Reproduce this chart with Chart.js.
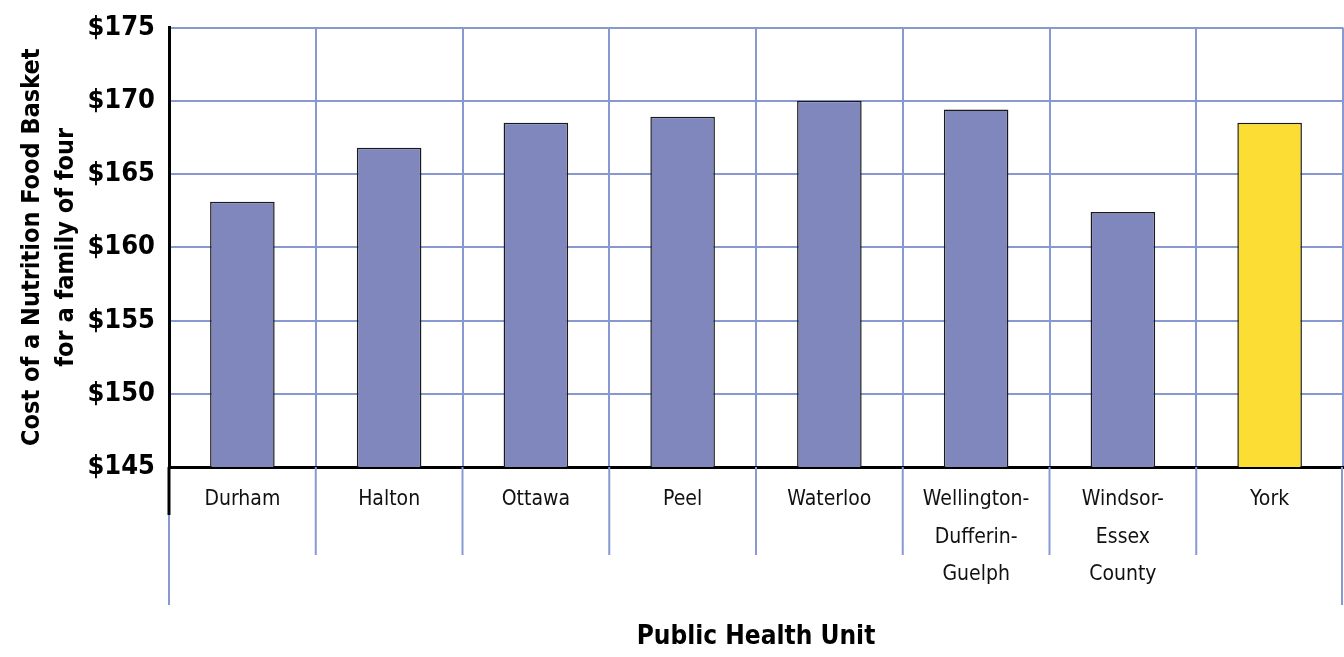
<!DOCTYPE html>
<html>
<head>
<meta charset="utf-8">
<script src="https://cdn.jsdelivr.net/npm/chart.js@4/dist/chart.umd.min.js"></script>
<style>
  body { margin: 0; background: #fff; }
  #wrap { width: 1344px; height: 657px; }
</style>
</head>
<body>
<div id="wrap"><canvas id="chart" width="1344" height="657"></canvas></div>
<script>
const units = [
  "Durham",
  "Halton",
  "Ottawa",
  "Peel",
  "Waterloo",
  ["Wellington-", "Dufferin-", "Guelph"],
  ["Windsor-", "Essex", "County"],
  "York",
];
const basketCost = [163.1, 166.8, 168.5, 168.9, 170.0, 169.4, 162.4, 168.5];
const barColors = ["#8087bd", "#8087bd", "#8087bd", "#8087bd", "#8087bd", "#8087bd", "#8087bd", "#fcdd33"];
const yTitle = ["Cost of a Nutrition Food Basket", "for a family of four"];
const xTitle = "Public Health Unit";

const narrow = '"Liberation Sans Narrow", "DejaVu Sans Condensed", "Roboto Condensed", sans-serif';
const gridBlue = "#8799d0";

// lines that run down between the category labels
const belowAxis = {
  id: "belowAxis",
  afterDraw(chart) {
    const ctx = chart.ctx;
    const area = chart.chartArea;
    const n = units.length;
    const step = (area.right - area.left) / n;
    ctx.save();
    ctx.strokeStyle = gridBlue;
    ctx.lineWidth = 2;
    for (let i = 0; i <= n; i++) {
      let x = area.left + i * step;
      if (i === n) x -= 1;
      const len = i === 0 || i === n ? 138 : 88;
      ctx.beginPath();
      ctx.moveTo(x, area.bottom);
      ctx.lineTo(x, area.bottom + len);
      ctx.stroke();
    }
    ctx.strokeStyle = "#000";
    ctx.lineWidth = 3;
    ctx.beginPath();
    ctx.moveTo(area.left, area.bottom);
    ctx.lineTo(area.left, area.bottom + 48);
    ctx.stroke();
    ctx.restore();
  },
};

let chart1 = new Chart(document.querySelector("#chart"), {
  type: "bar",
  data: {
    labels: units,
    datasets: [
      {
        data: basketCost,
        backgroundColor: barColors,
        borderColor: "#1a1a1a",
        borderWidth: 1.5,
        borderSkipped: "bottom",
        categoryPercentage: 1,
        barPercentage: 0.44,
      },
    ],
  },
  options: {
    responsive: false,
    animation: false,
    layout: { padding: { top: 24, right: 1, left: 0, bottom: 0 } },
    plugins: {
      legend: { display: false },
      tooltip: { enabled: false },
    },
    scales: {
      x: {
        offset: true,
        grid: {
          offset: true,
          color: gridBlue,
          lineWidth: 2,
          drawTicks: false,
        },
        border: { color: "#000", width: 3 },
        ticks: {
          color: "#111",
          padding: 14,
          maxRotation: 0,
          autoSkip: false,
          font: { family: narrow, size: 21, lineHeight: 1.78 },
        },
        title: {
          display: true,
          text: xTitle,
          color: "#000",
          font: { family: narrow, size: 26, weight: "bold" },
          padding: { top: 0, bottom: 4 },
        },
        afterFit(scale) {
          scale.height = 190;
        },
      },
      y: {
        min: 145,
        max: 175,
        grid: {
          color: gridBlue,
          lineWidth: 2,
          drawTicks: false,
        },
        border: { color: "#000", width: 3 },
        ticks: {
          stepSize: 5,
          color: "#000",
          padding: 14,
          font: { family: narrow, size: 27, weight: "bold", lineHeight: 1 },
          callback: (v) => "$" + v,
        },
        title: {
          display: true,
          text: yTitle,
          color: "#000",
          font: { family: narrow, size: 25, weight: "bold", lineHeight: 1.35 },
          padding: { top: 16, bottom: 6 },
        },
        afterFit(scale) {
          scale.width = 169;
        },
      },
    },
  },
  plugins: [belowAxis],
});
</script>
</body>
</html>
